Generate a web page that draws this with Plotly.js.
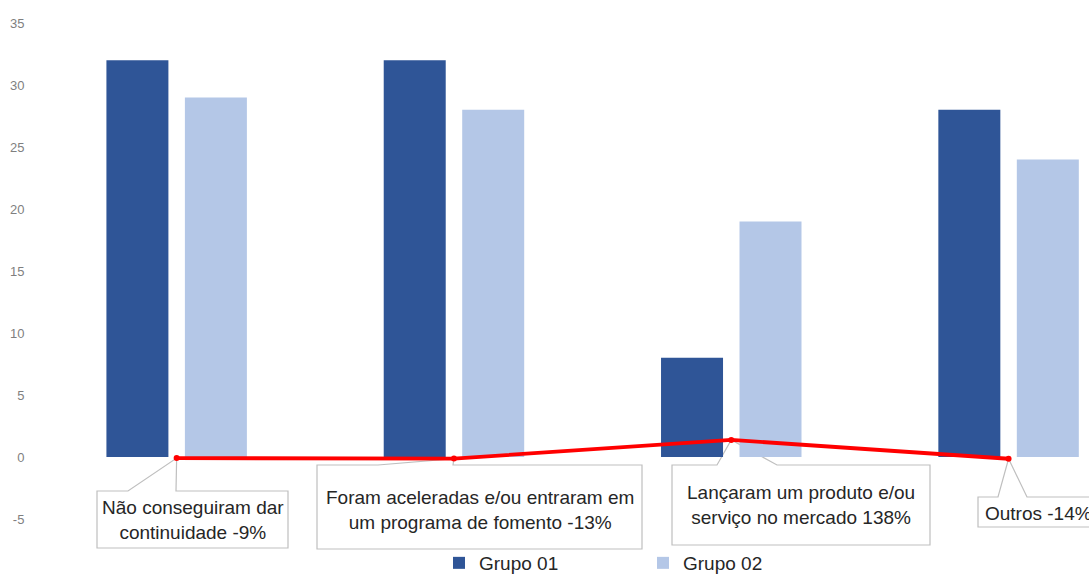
<!DOCTYPE html>
<html>
<head>
<meta charset="utf-8">
<script src="https://cdn.plot.ly/plotly-3.0.1.min.js"></script>
<style>html,body{margin:0;padding:0;background:#fff;}#chart{width:1089px;height:574px;}</style>
</head>
<body>
<div id="chart"></div>
<script>
// ---- data ----
const categorias = [
  'Não conseguiram dar<br>continuidade',
  'Foram aceleradas e/ou entraram em<br>um programa de fomento',
  'Lançaram um produto e/ou<br>serviço no mercado',
  'Outros'
];
const grupo01 = [32, 32, 8, 28];
const grupo02 = [29, 28, 19, 24];
const variacao = [-9, -13, 138, -14];   // % change
const nomesSeries = ['Grupo 01', 'Grupo 02'];
const yTickVals = [-5, 0, 5, 10, 15, 20, 25, 30, 35];
const yTickText = ['-5', '0', '5', '10', '15', '20', '25', '30', '35'];

// ---- geometry / style ----
const W = 1089, H = 574, L = 38, T = 23, plotW = W - L, plotH = H - T;
const xr = [-0.5, 3.29];
const pxPerUnit = 12.4;
const yr = [35 - plotH / pxPerUnit, 35];
const px2x = p => xr[0] + (p - L) / plotW * (xr[1] - xr[0]);
const py2y = p => yr[1] - (p - T) / plotH * (yr[1] - yr[0]);

const callouts = [
  {l: 97,  r: 288,  t: 491, b: 548, wl: 128, wr: 176,  tx: 192.5, ty: 519.5, xa: 'center'},
  {l: 317, r: 642,  t: 465, b: 549, wl: 378, wr: 453,  tx: 479.5, ty: 509.5, xa: 'center'},
  {l: 672, r: 930,  t: 465, b: 545, wl: 717, wr: 777,  tx: 801,   ty: 504.5, xa: 'center'},
  {l: 978, r: 1100, t: 497, b: 527, wl: 998, wr: 1027, tx: 983,   ty: 513,   xa: 'left'}
];

const xIdx = categorias.map((_, i) => i);
const linhaY = variacao.map(v => v / 100);

const traces = [
  {type: 'bar', name: nomesSeries[0], x: xIdx, y: grupo01, marker: {color: '#2F5597'}, hoverinfo: 'y'},
  {type: 'bar', name: nomesSeries[1], x: xIdx, y: grupo02, marker: {color: '#B4C7E7'}, hoverinfo: 'y'},
  {type: 'scatter', mode: 'lines+markers', x: xIdx, y: linhaY, showlegend: false,
   line: {color: '#FF0000', width: 3.8}, marker: {color: '#FF0000', size: 6}}
];

const shapes = callouts.map((c, i) => {
  const tipX = xIdx[i], tipY = linhaY[i];
  const pts = [
    [px2x(c.l), py2y(c.t)], [px2x(c.wl), py2y(c.t)], [tipX, tipY], [px2x(c.wr), py2y(c.t)],
    [px2x(c.r), py2y(c.t)], [px2x(c.r), py2y(c.b)], [px2x(c.l), py2y(c.b)]
  ];
  return {
    type: 'path', xref: 'x', yref: 'y', layer: 'below',
    path: 'M' + pts.map(p => p[0] + ',' + p[1]).join('L') + 'Z',
    fillcolor: '#FFFFFF', line: {color: '#BFBFBF', width: 1.2}
  };
});

const annotations = callouts.map((c, i) => ({
  xref: 'x', yref: 'y', x: px2x(c.tx), y: py2y(c.ty), xanchor: c.xa, yanchor: 'middle',
  showarrow: false, align: 'center',
  text: categorias[i] + ' ' + variacao[i] + '%',
  font: {family: 'Liberation Sans, Arial, sans-serif', size: 19, color: '#262626'}
}));

const layout = {
  width: W, height: H,
  margin: {l: L, r: 0, t: T, b: 0, pad: 0, autoexpand: false},
  paper_bgcolor: '#FFFFFF', plot_bgcolor: 'rgba(0,0,0,0)',
  barmode: 'group', bargap: 0.434, bargroupgap: 0.21,
  showlegend: true,
  legend: {
    orientation: 'h', x: (439 - L) / plotW, xanchor: 'left', y: (H - 563) / plotH, yanchor: 'middle',
    entrywidth: 159, entrywidthmode: 'pixels', bgcolor: 'rgba(0,0,0,0)',
    font: {family: 'Liberation Sans, Arial, sans-serif', size: 19, color: '#262626'}
  },
  xaxis: {type: 'linear', range: xr, showticklabels: false, showgrid: false, zeroline: false, showline: false, ticks: ''},
  yaxis: {range: yr, tickmode: 'array', tickvals: yTickVals, ticktext: yTickText,
          showgrid: false, zeroline: false, showline: false,
          ticks: 'outside', ticklen: 10, tickcolor: 'rgba(0,0,0,0)',
          tickfont: {family: 'Liberation Sans, Arial, sans-serif', size: 13, color: '#7F7F7F'}},
  shapes: shapes,
  annotations: annotations
};

Plotly.newPlot('chart', traces, layout, {displayModeBar: false, staticPlot: true});
</script>
</body>
</html>
